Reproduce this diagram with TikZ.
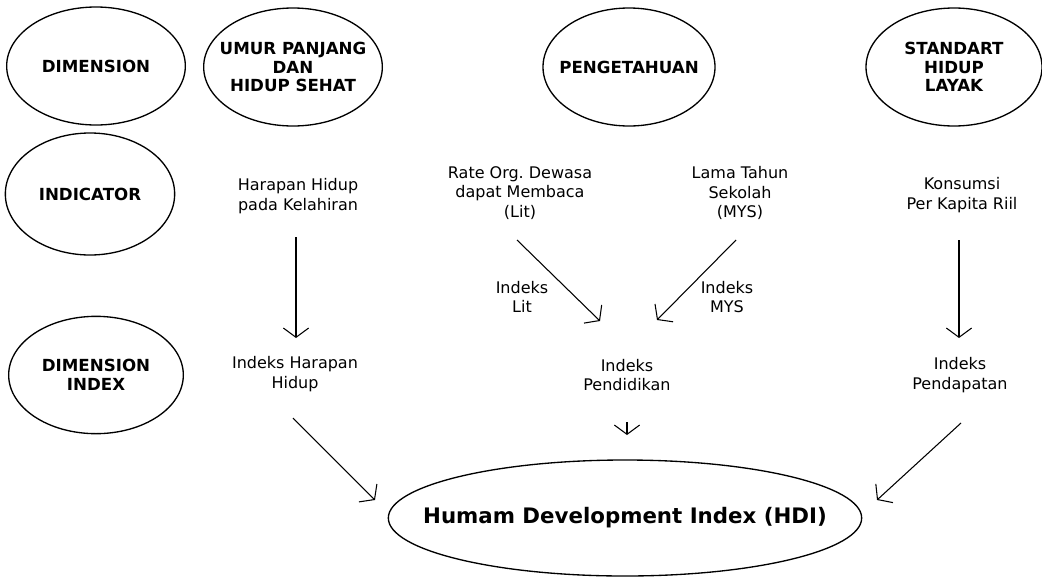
\documentclass[tikz,border=0pt]{standalone}
\usepackage{fontspec}
\setmainfont{DejaVu Sans}
\usetikzlibrary{shapes.geometric,arrows.meta,calc}
\tikzstyle{headNode} = [
 ellipse,
 draw=black,
 line width=1pt,
 inner xsep=-10pt,
 inner ysep=0pt,
 minimum width=134pt,
 minimum height=88.5pt,
 align = center,
 font=\fontsize{12.5}{14}\selectfont\bfseries
]
\tikzstyle{plainText} = [
 align = center,
 inner sep=1pt,
 font=\fontsize{12}{14.5}\selectfont
]
\tikzstyle{hdiNode} = [
 ellipse,
 draw=black,
 line width=1pt,
 inner xsep=-30pt,
 inner ysep=0pt,
 minimum width=355pt,
 minimum height=87pt,
 font=\fontsize{16}{18}\selectfont\bfseries
]
\tikzstyle{arrowLine} = [
 line width=0.8pt,
 -{Straight Barb[length=7pt,width=19pt]}
]

\begin{document}
\begin{tikzpicture}[x=0.75pt,y=-0.75pt]
  \useasboundingbox (0,0) rectangle (1042,579);

  \node [headNode] (dimension) at (96,66) {DIMENSION};
  \node [headNode] (umur) at (293,67) {UMUR PANJANG\\DAN\\HIDUP SEHAT};
  \node [headNode, minimum width=129pt] (pengetahuan) at (629,67) {PENGETAHUAN};
  \node [headNode, minimum width=132pt] (standart) at (954,67) {STANDART\\HIDUP\\LAYAK};

  \node [headNode, minimum width=127pt, minimum height=91.5pt] (indicator) at (90,194) {INDICATOR};
  \node [plainText] (harapan) at (298,196) {Harapan Hidup\\pada Kelahiran};
  \node [plainText] (rate) at (520,193) {Rate Org.\ Dewasa\\dapat Membaca\\(Lit)};
  \node [plainText] (lama) at (740,193) {Lama Tahun\\Sekolah\\(MYS)};
  \node [plainText] (konsumsi) at (962,195) {Konsumsi\\Per Kapita Riil};

  \node [plainText] (lbllit) at (522,297) {Indeks\\Lit};
  \node [plainText] (lblmys) at (727,297) {Indeks\\MYS};

  \node [headNode, minimum width=131pt, minimum height=88pt] (dimindex) at (96,375) {DIMENSION\\INDEX};
  \node [plainText] (idxharapan) at (295,374) {Indeks Harapan\\Hidup};
  \node [plainText] (idxdidik) at (627,375) {Indeks\\Pendidikan};
  \node [plainText] (idxdapat) at (960,375) {Indeks\\Pendapatan};

  \node [hdiNode] (hdi) at (625,518) {Humam Development Index (HDI)};

  \draw [arrowLine] ($(harapan)+(-2,41)$) -- ($(idxharapan)+(1,-36)$);
  \draw [arrowLine] ($(rate)+(-3,47)$) -- ($(idxdidik)+(-27,-54)$);
  \draw [arrowLine] ($(lama)+(-4,47)$) -- ($(idxdidik)+(30,-55)$);
  \draw [arrowLine] ($(konsumsi)+(-3,45)$) -- ($(idxdapat)+(-1,-37)$);
  \draw [arrowLine] ($(idxharapan)+(-2,44)$) -- ($(hdi)+(-250,-18)$);
  \draw [arrowLine] ($(idxdidik)+(0,47)$) -- ($(hdi)+(2,-83)$);
  \draw [arrowLine] ($(idxdapat)+(1,48)$) -- ($(hdi)+(252,-18)$);
\end{tikzpicture}
\end{document}
